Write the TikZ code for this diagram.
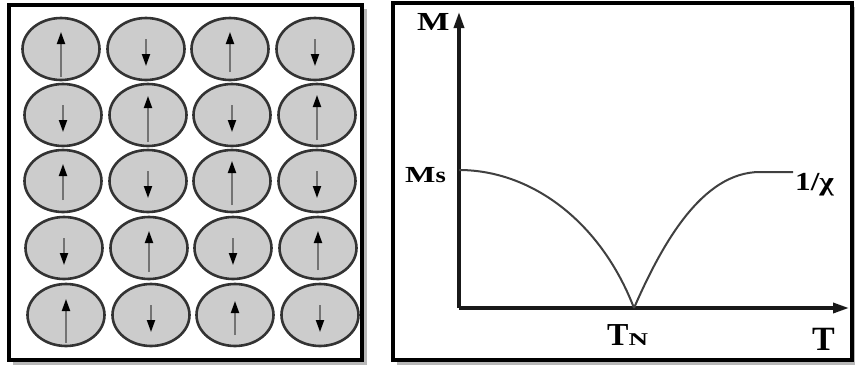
\documentclass[tikz,border=0pt]{standalone}
\usepackage{fontspec}
\setmainfont{Liberation Serif}
\usetikzlibrary{shapes.geometric,arrows.meta,calc}
\tikzset{
  panel/.style={draw=black,line width=4.5pt,fill=white},
  shadowbox/.style={fill=black!28,draw=none},
  cell/.style={ellipse,draw=black!80,line width=2.6pt,fill=black!20,minimum width=77pt,minimum height=62pt,inner sep=0pt},
  spin/.style={draw=black!55,line width=1.9pt,-{Triangle[length=12pt,width=8pt,color=black]}},
  axis/.style={line width=3.4pt,draw=black!90,-{Triangle[length=16pt,width=10pt]}},
  curve/.style={line width=2pt,draw=black!75},
  lbl/.style={font=\bfseries,inner sep=0pt,anchor=base west}
}
\newcommand{\fsz}[1]{\fontsize{#1}{#1}\selectfont}
\begin{document}
\begin{tikzpicture}[x=1pt,y=-1pt]
\useasboundingbox (0,0) rectangle (855,367);
% shadows
\fill[shadowbox] (13,9) rectangle (367,365);
\fill[shadowbox] (397,7) rectangle (855,365);
% panels
\draw[panel] (9,5) rectangle (362,360);
\draw[panel] (393,3) rectangle (852,360);
% lattice of spins
\foreach \r/\y/\dx in {1/49/0,2/115/2,3/181/2,4/248/3,5/315/5}{
  \foreach \c/\x in {1/61,2/146,3/230,4/315}{
    \node[cell] (c\r\c) at (\x+\dx,\y) {};
  }
}
% up spins (tail, tip relative to centre)
\foreach \n/\t/\h in {c11/28/-17,c13/23/-17,c22/27/-19,c24/25/-20,c31/19/-17,c33/24/-20,c42/24/-17,c44/22/-17,c51/28/-16,c53/20/-14}{
  \draw[spin] ($(\n)+(0,\t)$) -- ($(\n)+(0,\h)$);
}
% down spins
\foreach \n in {c12,c14,c21,c23,c32,c34,c41,c43,c52,c54}{
  \draw[spin] ($(\n)+(0,-10)$) -- ($(\n)+(0,17)$);
}
% graph
\coordinate (O) at (459,308);
\coordinate (Ytop) at (459,12);
\coordinate (Xend) at (849,308);
\coordinate (MsP) at (459,170);
\coordinate (TnP) at (634,308);
\coordinate (Top) at (760,172);
\coordinate (ChiP) at (793,172);
\draw[axis] (O) -- (Ytop);
\draw[axis] (O) -- (Xend);
\draw[curve] (MsP) .. controls (530,170) and (600,220) .. (TnP);
\draw[curve] (TnP) .. controls (662,244) and (702,172) .. (Top) -- (ChiP);
\node[lbl] (M) at (417,30) {\fsz{26}\scalebox{1.32}[1]{M}};
\node[lbl] (Ms) at (405,182) {\fsz{23}\scalebox{1.4}[1]{M}\fsz{22}\scalebox{1.2}[1]{s}};
\node[lbl] (Tn) at (607,345) {\fsz{32}T\fsz{18}\scalebox{1.5}[1]{N}};
\node[lbl] (T) at (812,350) {\fsz{34}T};
\node[lbl] (chi) at (795,190) {\fsz{26}\scalebox{1.2}[1]{1/χ}};
\end{tikzpicture}
\end{document}
